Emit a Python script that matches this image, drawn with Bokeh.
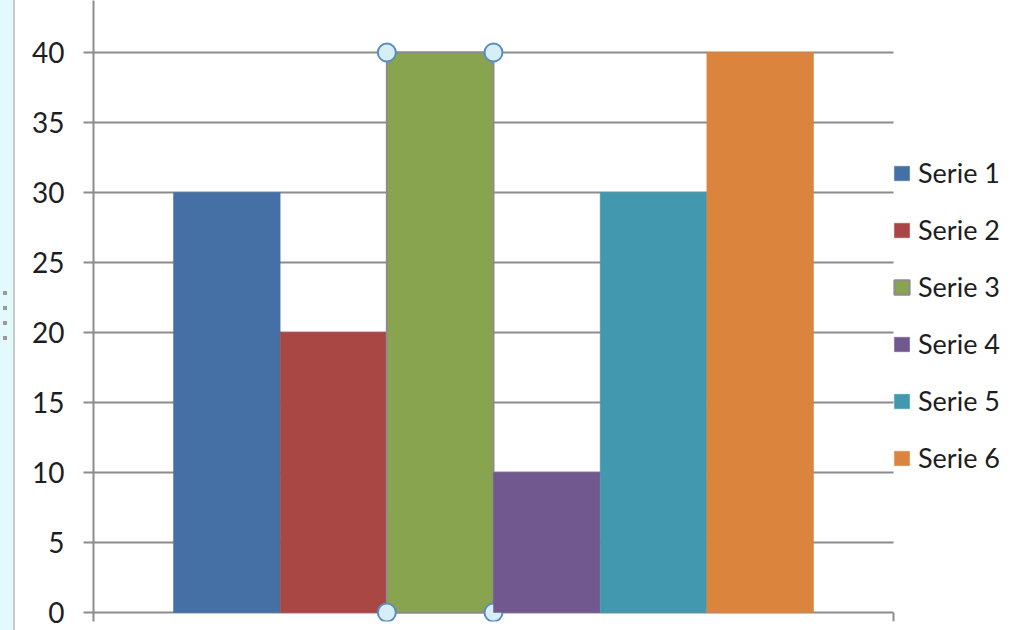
from bokeh.plotting import figure
from bokeh.models import Range1d, FixedTicker, Legend, LegendItem
from bokeh.embed import file_html
from bokeh.resources import INLINE

series = ["Serie 1", "Serie 2", "Serie 3", "Serie 4", "Serie 5", "Serie 6"]
values = [30, 20, 40, 10, 30, 40]
colors = ["#4470A5", "#A84744", "#88A44F", "#71588F", "#4198AF", "#DB843D"]
y_ticks = [0, 5, 10, 15, 20, 25, 30, 35, 40]
selected = "Serie 3"

GRID = "#8c8c8c"
gap = 0.75  # category gap on each side (in bar widths)
n = len(series)
x_end = n + 2 * gap  # end of the category axis

H = 630
W = 1018
LEFT = 93
PLOT_W = 800   # pixel width of the category axis
PX = 14.0      # pixels per y unit
ZERO_Y = 612   # pixel row of y = 0
BELOW = 9      # frame extends below y=0 (for the axis tick marks)
frame_w = W - LEFT
y0 = -BELOW / PX

p = figure(width=W, height=H, output_backend="svg", toolbar_location=None,
           x_range=Range1d(0, x_end * frame_w / PLOT_W),
           y_range=Range1d(y0, ZERO_Y / PX),
           min_border_left=LEFT, min_border_right=0, min_border_top=0,
           min_border_bottom=H - ZERO_Y - BELOW)
p.outline_line_color = None
p.background_fill_color = "white"
p.border_fill_color = None
p.styles = {
    "background": "repeating-linear-gradient(to bottom,#9a9a9a 0 4px,transparent 4px 15px) 3px 291px / 4px 49px no-repeat,"
                  "linear-gradient(to right,#e4f9fc 0 13px,#c4c8c8 13px 15px,#ffffff 15px)"
}

# gridlines and category axis line, ending at the end of the category axis
p.segment(x0=[0] * len(y_ticks), x1=[x_end] * len(y_ticks), y0=y_ticks, y1=y_ticks,
          line_color=GRID, line_width=2)
# category axis tick mark at the end of the axis
p.segment(x0=[x_end], x1=[x_end], y0=[0], y1=[y0], line_color=GRID, line_width=2)

items = []
for i, (name, val, col) in enumerate(zip(series, values, colors)):
    sel = name == selected
    r = p.vbar(x=[gap + i + 0.5], top=[val], bottom=0, width=1.0, fill_color=col,
               line_color=GRID if sel else col, line_width=2 if sel else 0.5)
    items.append(LegendItem(label=name, renderers=[r]))
    if sel:
        xs = [gap + i, gap + i + 1, gap + i, gap + i + 1]
        ys = [val, val, 0, 0]
        p.scatter(x=xs, y=ys, size=18, marker="circle", fill_color="#d6eef6",
                  line_color="#5a8cc2", line_width=2)

# value axis
p.yaxis.ticker = FixedTicker(ticks=y_ticks)
p.yaxis.axis_line_color = GRID
p.yaxis.axis_line_width = 2
p.yaxis.major_tick_line_color = GRID
p.yaxis.major_tick_line_width = 2
p.yaxis.major_tick_out = 10
p.yaxis.major_tick_in = 0
p.yaxis.minor_tick_line_color = None
p.yaxis.major_label_text_font = "Lato"
p.yaxis.major_label_text_font_size = "28px"
p.yaxis.major_label_text_color = "#1e1e1e"
p.yaxis.major_label_standoff = 19

p.xaxis.visible = False
p.xgrid.grid_line_color = None
p.ygrid.grid_line_color = None

legend = Legend(items=items, location=(799, 138 + BELOW), orientation="vertical",
                label_text_font="Lato", label_text_font_size="27px", label_text_color="#1e1e1e",
                glyph_width=19, glyph_height=18, label_standoff=7, label_height=30,
                spacing=24, padding=0, margin=0, border_line_alpha=0, background_fill_alpha=0)
p.add_layout(legend, "center")

open("out.html", "w").write(file_html(p, INLINE))
